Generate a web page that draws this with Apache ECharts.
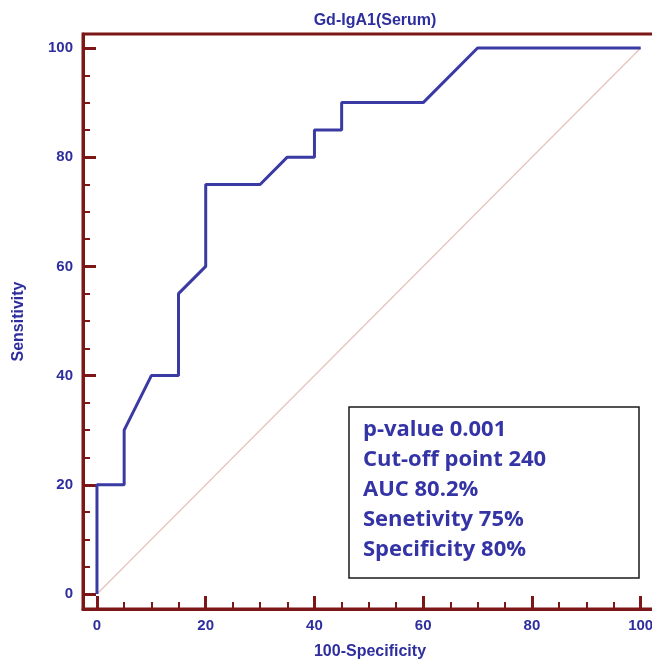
<!DOCTYPE html>
<html>
<head>
<meta charset="utf-8">
<script src="https://cdn.jsdelivr.net/npm/echarts@6/dist/echarts.min.js"></script>
<style>
  html, body { margin: 0; padding: 0; background: #fff; }
  #chart { width: 652px; height: 661px; }
</style>
</head>
<body>
<div id="chart"></div>
<script>
// ROC curve points (100-Specificity, Sensitivity)
const rocX = [0, 0, 5, 5, 10, 15, 15, 20, 20, 30, 35, 40, 40, 45, 45, 60, 70, 100]
const rocY = [0, 20, 20, 30, 40, 40, 55, 60, 75, 75, 80, 80, 85, 85, 90, 90, 100, 100]
// chance line
const refX = [0, 100]
const refY = [0, 100]
// tick values
const majorTicks = [0, 20, 40, 60, 80, 100]
const minorTicks = [5, 10, 15, 25, 30, 35, 45, 50, 55, 65, 70, 75, 85, 90, 95]
const statLines = [
  'p-value 0.001',
  'Cut-off point 240',
  'AUC 80.2%',
  'Senetivity 75%',
  'Specificity 80%',
]

const axisRed = '#7d1616'
const labelBlue = '#2e2e9e'
const lineBlue = '#3a3aa4'

const labelFont = {
  color: labelBlue,
  fontFamily: 'Liberation Sans, Arial, sans-serif',
  fontWeight: 'bold',
  fontSize: 15,
}
const nameFont = {
  color: labelBlue,
  fontFamily: 'Liberation Sans, Arial, sans-serif',
  fontWeight: 'bold',
  fontSize: 16,
}

const xMin = -2.57
const xMax = 103
const yMin = -2.75
const yMax = 102.56

function majorAxis(extra) {
  return Object.assign({
    type: 'value',
    gridIndex: 0,
    axisLine: { show: true, onZero: false, lineStyle: { color: axisRed, width: 3 } },
    axisTick: { show: true, inside: true, length: 13, customValues: majorTicks, lineStyle: { color: axisRed, width: 3 } },
    axisLabel: Object.assign({ customValues: majorTicks }, labelFont),
    splitLine: { show: false },
  }, extra)
}
function minorAxis(extra) {
  return Object.assign({
    type: 'value',
    gridIndex: 0,
    axisLine: { show: false, onZero: false },
    axisTick: { show: true, inside: true, length: 7, customValues: minorTicks, lineStyle: { color: axisRed, width: 2 } },
    axisLabel: { show: false },
    splitLine: { show: false },
  }, extra)
}

const chart = echarts.init(document.getElementById('chart'))

const rocData = rocX.map((x, i) => [x, rocY[i]])
const refData = refX.map((x, i) => [x, refY[i]])

chart.setOption({
  animation: false,
  title: {
    text: 'Gd-IgA1(Serum)',
    left: 370,
    top: 8,
    textAlign: 'center',
    textStyle: nameFont,
  },
  grid: {
    left: 83,
    top: 34,
    width: 574,
    height: 575,
    outerBoundsMode: 'none',
    containLabel: false,
    show: true,
    borderColor: axisRed,
    borderWidth: 3,
    backgroundColor: 'transparent',
  },
  xAxis: [
    majorAxis({
      min: xMin, max: xMax,
      position: 'bottom',
      name: '100-Specificity',
      nameLocation: 'middle',
      nameGap: 35,
      nameTextStyle: nameFont,
      axisLabel: Object.assign({ customValues: majorTicks, margin: 9 }, labelFont),
    }),
    minorAxis({ min: xMin, max: xMax, position: 'bottom' }),
  ],
  yAxis: [
    majorAxis({
      min: yMin, max: yMax,
      position: 'left',
      name: 'Sensitivity',
      nameLocation: 'middle',
      nameGap: 56,
      nameTextStyle: nameFont,
      axisLabel: Object.assign({ customValues: majorTicks, margin: 10 }, labelFont),
    }),
    minorAxis({ min: yMin, max: yMax, position: 'left' }),
  ],
  series: [
    {
      type: 'line',
      data: refData,
      showSymbol: false,
      lineStyle: { color: '#e6c2bb', width: 1.2 },
      silent: true,
    },
    {
      type: 'line',
      data: rocData,
      showSymbol: false,
      lineStyle: { color: lineBlue, width: 3 },
    },
  ],
  graphic: [
    {
      type: 'rect',
      shape: { x: 349, y: 407, width: 290, height: 171 },
      style: { fill: '#fff', stroke: '#1a1a1a', lineWidth: 1.5 },
      z: 10,
    },
    {
      type: 'text',
      x: 363,
      y: 415,
      z: 11,
      style: {
        text: statLines.join('\n'),
        fill: '#3434a6',
        font: 'bold 22px "Open Sans", sans-serif',
        lineHeight: 30,
      },
    },
  ],
})
</script>
</body>
</html>
